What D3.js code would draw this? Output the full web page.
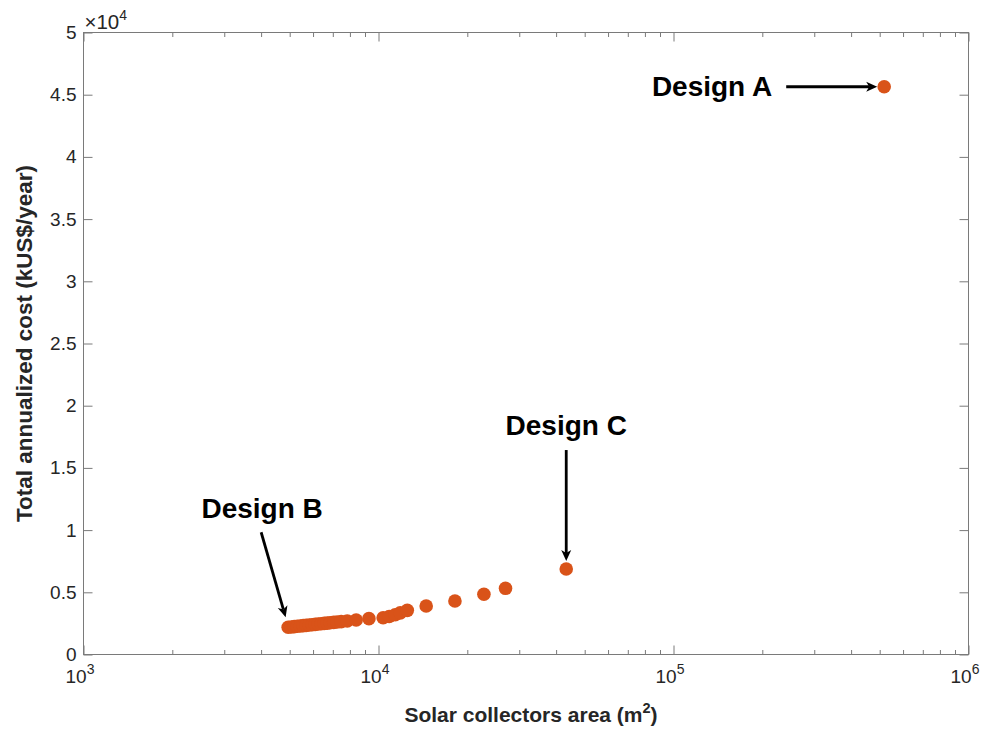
<!DOCTYPE html>
<html>
<head>
<meta charset="utf-8">
<script src="https://cdn.jsdelivr.net/npm/d3@7"></script>
<style>
  body { margin: 0; background: #fff; }
  svg { display: block; font-family: "Liberation Sans", Arial, Helvetica, sans-serif; }
</style>
</head>
<body>
<div id="chart"></div>
<script>
// data
var areaM2 = [4940, 5060, 5180, 5300, 5430, 5555, 5685, 5825, 5960, 6100, 6245, 6395,
              6545, 6700, 6860, 7050, 7245, 7475, 7835, 8400, 9280, 10370, 10870, 11390,
              11850, 12520, 14510, 18160, 22770, 26950, 43290, 517900];
var costKUS = [2190, 2216, 2242, 2267, 2293, 2319, 2345, 2371, 2396, 2422, 2448, 2474,
               2500, 2525, 2551, 2580, 2610, 2645, 2690, 2770, 2880, 2950, 3050, 3200,
               3350, 3550, 3900, 4300, 4840, 5320, 6870, 45640];
var yTicks = [0, 5000, 10000, 15000, 20000, 25000, 30000, 35000, 40000, 45000, 50000];
var yTickLabels = ["0", "0.5", "1", "1.5", "2", "2.5", "3", "3.5", "4", "4.5", "5"];
var xMajor = [1e3, 1e4, 1e5, 1e6];
var xExponents = ["3", "4", "5", "6"];
var designLabels = ["Design A", "Design B", "Design C"];
var designIndex = [31, 0, 30];

// set the dimensions and margins of the graph
var margin = {top: 32.5, right: 19.5, bottom: 78.5, left: 83.5},
    width = 988 - margin.left - margin.right,
    height = 733 - margin.top - margin.bottom;

var svg = d3.select("#chart").append("svg")
    .attr("width", 988)
    .attr("height", 733);

var g = svg.append("g")
    .attr("transform", "translate(" + margin.left + "," + margin.top + ")");

var x = d3.scaleLog().domain([1e3, 1e6]).range([0, width]);
var y = d3.scaleLinear().domain([0, 50000]).range([height, 0]);

var xMinor = x.ticks().filter(function(v) { return xMajor.indexOf(v) < 0; });

var axisColor = "#7a7a7a", textColor = "#262626";

function styleAxis(sel) {
    sel.select(".domain").remove();
    sel.selectAll(".tick line").attr("stroke", axisColor).attr("stroke-width", 1);
    sel.selectAll("text").attr("fill", textColor).style("font-size", "19px");
}

// x axis bottom: minor + major ticks (inward)
g.append("g").attr("transform", "translate(0," + height + ")")
    .call(d3.axisBottom(x).tickValues(xMinor).tickSize(-4.5).tickFormat(""))
    .call(styleAxis);
var xAxisB = g.append("g").attr("transform", "translate(0," + height + ")")
    .call(d3.axisBottom(x).tickValues(xMajor).tickSize(-9).tickPadding(15).tickFormat(function() { return "10"; }))
    .call(styleAxis);
xAxisB.selectAll(".tick text")
    .attr("dy", "0.71em")
    .attr("dx", "-4")
    .append("tspan")
    .attr("dy", "-9")
    .style("font-size", "14px")
    .text(function(d, i) { return xExponents[i]; });

// x axis top (mirror)
g.append("g")
    .call(d3.axisTop(x).tickValues(xMinor).tickSize(-4.5).tickFormat(""))
    .call(styleAxis);
g.append("g")
    .call(d3.axisTop(x).tickValues(xMajor).tickSize(-9).tickFormat(""))
    .call(styleAxis);

// y axis left and right
g.append("g")
    .call(d3.axisLeft(y).tickValues(yTicks).tickSize(-9).tickPadding(7)
        .tickFormat(function(d, i) { return yTickLabels[i]; }))
    .call(styleAxis);
g.append("g").attr("transform", "translate(" + width + ",0)")
    .call(d3.axisRight(y).tickValues(yTicks).tickSize(-9).tickFormat(""))
    .call(styleAxis);

// box
g.append("rect")
    .attr("width", width).attr("height", height)
    .attr("fill", "none").attr("stroke", axisColor).attr("stroke-width", 1);

// exponent multiplier
var mult = g.append("text")
    .attr("x", 1).attr("y", -4)
    .attr("fill", textColor).style("font-size", "20.5px")
    .text("\u00d710");
mult.append("tspan").attr("dy", "-9").style("font-size", "14px").text("4");

// points
g.selectAll(".dot")
    .data(areaM2)
    .enter().append("circle")
    .attr("class", "dot")
    .attr("cx", function(d) { return x(d); })
    .attr("cy", function(d, i) { return y(costKUS[i]); })
    .attr("r", 6.8)
    .attr("fill", "#D95319");

// axis titles
var xTitle = svg.append("text")
    .attr("x", margin.left + width / 2 + 5)
    .attr("y", 722)
    .attr("text-anchor", "middle")
    .style("font-size", "21px").style("font-weight", "bold")
    .attr("fill", textColor)
    .text("Solar collectors area (m");
xTitle.append("tspan").attr("dy", "-9").style("font-size", "14.5px").text("2");
xTitle.append("tspan").attr("dy", "9").text(")");

svg.append("text")
    .attr("transform", "translate(32," + (margin.top + height / 2) + ") rotate(-90)")
    .attr("text-anchor", "middle")
    .style("font-size", "22.5px").style("font-weight", "bold")
    .attr("fill", textColor)
    .text("Total annualized cost (kUS$/year)");

// annotations
function arrow(x0, y0, x1, y1) {
    var dx = x1 - x0, dy = y1 - y0, len = Math.sqrt(dx * dx + dy * dy);
    var ux = dx / len, uy = dy / len, nx = -uy, ny = ux;
    var L = 11, w = 5, notch = 3;
    g.append("line")
        .attr("x1", x0).attr("y1", y0)
        .attr("x2", x1 - ux * (L - notch)).attr("y2", y1 - uy * (L - notch))
        .attr("stroke", "#000").attr("stroke-width", 2.8);
    g.append("path")
        .attr("d", "M" + x1 + "," + y1 +
            "L" + (x1 - ux * L + nx * w) + "," + (y1 - uy * L + ny * w) +
            "L" + (x1 - ux * (L - notch)) + "," + (y1 - uy * (L - notch)) +
            "L" + (x1 - ux * L - nx * w) + "," + (y1 - uy * L - ny * w) + "Z")
        .attr("fill", "#000");
}
function label(txt, px, py, anchor) {
    g.append("text")
        .attr("x", px).attr("y", py)
        .attr("text-anchor", anchor)
        .style("font-size", "28px").style("font-weight", "bold")
        .attr("fill", "#000")
        .text(txt);
}

// Design A: horizontal arrow from the left
var pA = [x(areaM2[designIndex[0]]), y(costKUS[designIndex[0]])];
arrow(pA[0] - 98, pA[1], pA[0] - 7, pA[1]);
label(designLabels[0], pA[0] - 112, pA[1] + 9.5, "end");

// Design B: slanted arrow from above-left
var pB = [x(areaM2[designIndex[1]]), y(costKUS[designIndex[1]])];
arrow(pB[0] - 27, pB[1] - 95, pB[0] - 2.5, pB[1] - 10);
label(designLabels[1], pB[0] - 26, pB[1] - 109.5, "middle");

// Design C: vertical arrow from above
var pC = [x(areaM2[designIndex[2]]), y(costKUS[designIndex[2]])];
arrow(pC[0], pC[1] - 119, pC[0], pC[1] - 8);
label(designLabels[2], pC[0], pC[1] - 134.5, "middle");
</script>
</body>
</html>
